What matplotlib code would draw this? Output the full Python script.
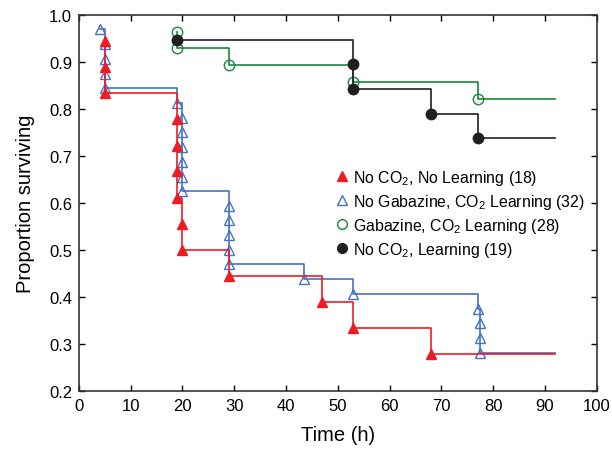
import matplotlib
matplotlib.use("Agg")
import matplotlib.pyplot as plt
from matplotlib.lines import Line2D

plt.rcParams["font.family"] = ["Liberation Sans", "DejaVu Sans"]
plt.rcParams["mathtext.default"] = "regular"

t_end = 92

# No CO2, No Learning (18)
red_t = [5, 5, 5, 19, 19, 19, 19, 20, 20, 29, 47, 53, 68]
red_s = [0.944, 0.889, 0.833, 0.778, 0.722, 0.667, 0.611, 0.556, 0.500, 0.444, 0.389, 0.333, 0.278]

# No Gabazine, CO2 Learning (32)
blue_t = [4, 5, 5, 5, 5, 19, 20, 20, 20, 20, 20, 20, 29, 29, 29, 29, 29, 43.5, 53, 77, 77.5, 77.5, 77.5]
blue_s = [0.969, 0.9375, 0.906, 0.875, 0.844, 0.8125, 0.781, 0.750, 0.719, 0.6875, 0.656, 0.625,
          0.594, 0.5625, 0.531, 0.500, 0.469, 0.4375, 0.406, 0.375, 0.344, 0.3125, 0.281]

# Gabazine, CO2 Learning (28)
green_t = [19, 19, 29, 53, 77]
green_s = [0.964, 0.929, 0.893, 0.857, 0.821]

# No CO2, Learning (19)
black_t = [19, 53, 53, 68, 77]
black_s = [0.947, 0.895, 0.842, 0.789, 0.737]

red = "#ed1c24"
blue = "#4472c4"
green = "#16893a"
black = "#231f20"

fig = plt.figure(figsize=(6.12, 4.52), dpi=100)
ax = fig.add_axes([0.129, 0.133, 0.846, 0.832])

def km(t, s, color, marker, filled, ms):
    ax.step(t + [t_end], s + [s[-1]], where="post", color=color, lw=1.2)
    ax.plot(t, s, linestyle="none", marker=marker, ms=ms, mew=1.0,
            mec=color, mfc=color if filled else "none")

km(blue_t, blue_s, blue, "^", False, 7)
km(red_t, red_s, red, "^", True, 7)
km(green_t, green_s, green, "o", False, 7.5)
km(black_t, black_s, black, "o", True, 7.5)

ax.set_xlim(0, 100)
ax.set_ylim(0.2, 1.0)
ax.set_xticks(range(0, 101, 10))
ax.set_yticks([0.2, 0.3, 0.4, 0.5, 0.6, 0.7, 0.8, 0.9, 1.0])
ax.set_yticklabels(["0.2", "0.3", "0.4", "0.5", "0.6", "0.7", "0.8", "0.9", "1.0"])
ax.tick_params(direction="in", top=True, right=True, labelsize=12, length=4, width=1, pad=5)
for sp in ax.spines.values():
    sp.set_linewidth(1.2)
    sp.set_color("#333333")
ax.set_xlabel("Time (h)", fontsize=14.5, labelpad=9)
ax.set_ylabel("Proportion surviving", fontsize=14.5, labelpad=10)

handles = [
    Line2D([], [], ls="none", marker="^", ms=7, color=red, mfc=red),
    Line2D([], [], ls="none", marker="^", ms=7, color=blue, mfc="none"),
    Line2D([], [], ls="none", marker="o", ms=7, color=green, mfc="none"),
    Line2D([], [], ls="none", marker="o", ms=7, color=black, mfc=black),
]
labels = [
    "No CO$_2$, No Learning (18)",
    "No Gabazine, CO$_2$ Learning (32)",
    "Gabazine, CO$_2$ Learning (28)",
    "No CO$_2$, Learning (19)",
]
ax.legend(handles, labels, frameon=False, fontsize=11.4, loc="upper left",
          bbox_to_anchor=(0.48, 0.61), handletextpad=0.2, labelspacing=0.32,
          handlelength=1.0, borderaxespad=0)

fig.savefig("out.png", dpi=100)
